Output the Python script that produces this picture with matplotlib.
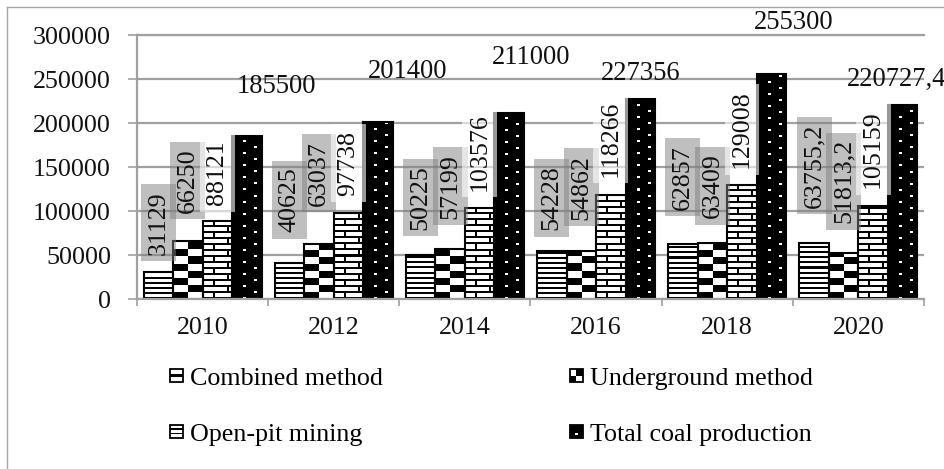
import numpy as np
import matplotlib
matplotlib.use('Agg')
import matplotlib.pyplot as plt
from matplotlib.patches import Rectangle
from matplotlib.legend_handler import HandlerBase
from matplotlib.lines import Line2D

# ---------------- data ----------------
years = ['2010', '2012', '2014', '2016', '2018', '2020']
combined = [31129, 40625, 50225, 54228, 62857, 63755.2]
underground = [66250, 63037, 57199, 54862, 63409, 51813.2]
open_pit = [88121, 97738, 103576, 118266, 129008, 105159]
total = [185500, 201400, 211000, 227356, 255300, 220727.4]
series_names = ['Combined method', 'Underground method', 'Open-pit mining', 'Total coal production']
yticks = [0, 50000, 100000, 150000, 200000, 250000, 300000]

# ---------------- style ----------------
total_dx = [30, 30, 22, 0, 22, -6]      # px offsets of total labels
total_dy = [49, 50, 56, 25, 52, 25]
rot_off = [[17, 31, 25, 21, 34, 35],     # px gap between bar top and rotated label
           [28, 38, 30, 31, 25, 30],
           [16, 17, 17, 18, 17, 18]]
box_fc = [(0.5, 0.5, 0.5, 0.5), (0.5, 0.5, 0.5, 0.5), (1, 1, 1, 0.6)]
GRID = '#a0a0a0'
FS = 18.7

plt.rcParams['font.family'] = ['Liberation Serif', 'DejaVu Serif']

W, H = 945, 469
fig = plt.figure(figsize=(W / 100, H / 100), dpi=100)
ax_l, ax_r, ax_t, ax_b = 137, 924, 35, 299
ax = fig.add_axes([ax_l / W, 1 - ax_b / H, (ax_r - ax_l) / W, (ax_b - ax_t) / H])

ymax = 300000
ncat = len(years)
xpx = (ax_r - ax_l) / ncat          # px per category unit
ypx = (ax_b - ax_t) / ymax          # px per value unit

w = 0.225
offs = [(-1.5 + k) * w for k in range(4)]
x = np.arange(ncat)
all_series = [combined, underground, open_pit, total]


def pattern(kind, nrows, ncols=30):
    r = np.arange(nrows)[:, None]
    c = np.arange(ncols)[None, :]
    ones = np.ones((nrows, ncols))
    if kind == 0:      # horizontal stripes
        a = np.where(r % 5 < 2, 0.0, 1.0) * ones
    elif kind == 1:    # checkerboard
        a = ((r // 7 + c // 15) % 2).astype(float) * ones
    elif kind == 2:    # brick
        hl = (r % 6 < 2)
        row = r // 6
        v = np.where(row % 2 == 0, (c >= 10) & (c < 12), (c >= 24) & (c < 26))
        a = np.where(hl | v, 0.0, 1.0) * ones
    else:              # black with white dashes
        d1 = (r % 12 < 2) & (c >= 11) & (c < 14)
        d2 = ((r % 12 >= 6) & (r % 12 < 8)) & (c >= 22) & (c < 25)
        a = np.where(d1 | d2, 1.0, 0.0) * ones
    return a


for s, vals in enumerate(all_series):
    bars = ax.bar(x + offs[s], vals, w, facecolor='white', edgecolor='none', zorder=2)
    for i, b in enumerate(bars):
        x0 = b.get_x()
        x1 = x0 + b.get_width()
        nrows = int(np.ceil(vals[i] * ypx)) + 2
        ncols = int(round(b.get_width() * xpx))
        im = ax.imshow(pattern(s, nrows, ncols), cmap='gray', vmin=0, vmax=1, origin='lower',
                       extent=[x0, x1, 0, nrows / ypx], aspect='auto',
                       interpolation='nearest', zorder=2.1)
        im.set_clip_path(b)
    ax.bar(x + offs[s], vals, w, facecolor='none', edgecolor='black', lw=1.5, zorder=2.2)


def fmt(v):
    v = float(v)
    return str(int(v)) if v.is_integer() else str(v).replace('.', ',')


for s in range(3):
    for i, v in enumerate(all_series[s]):
        ax.annotate(fmt(v), (x[i] + offs[s], v), xytext=(0, rot_off[s][i]),
                    textcoords='offset pixels', rotation=90, ha='center', va='bottom',
                    fontsize=FS, color='#111111', zorder=4 + s,
                    bbox=dict(boxstyle='square,pad=0.25', fc=box_fc[s], ec='none'))

for i, v in enumerate(total):
    ax.annotate(fmt(v), (x[i] + offs[3], v), xytext=(total_dx[i], total_dy[i]),
                textcoords='offset pixels', ha='center', va='center',
                fontsize=FS + 0.5, color='#111111', zorder=8)

ax.set_xlim(-0.5, ncat - 0.5)
ax.set_ylim(0, ymax)
ax.set_yticks(yticks)
ax.set_yticklabels([str(t) for t in yticks])
ax.set_xticks(x)
ax.set_xticklabels(years)
ax.set_xticks(np.arange(-0.5, ncat, 1), minor=True)
ax.tick_params(axis='x', which='major', length=0, pad=12.6, labelsize=FS, labelcolor='#111111')
ax.tick_params(axis='x', which='minor', length=5, width=1.2, color=GRID)
ax.tick_params(axis='y', length=6.5, width=1.2, color=GRID, pad=12.2, labelsize=FS, labelcolor='#111111')

ax.yaxis.grid(True, color=GRID, lw=1.6)
ax.set_axisbelow(True)
for sp in ['left', 'bottom', 'top']:
    ax.spines[sp].set_color(GRID)
    ax.spines[sp].set_linewidth(1.6)
ax.spines['right'].set_visible(False)


class IconHandler(HandlerBase):
    def __init__(self, kind):
        super().__init__()
        self.kind = kind

    def create_artists(self, legend, orig_handle, xdescent, ydescent, width, height, fontsize, trans):
        sz = min(width, height)
        x0 = -xdescent + (width - sz) / 2
        y0 = -ydescent + (height - sz) / 2
        k = self.kind
        arts = [Rectangle((x0, y0), sz, sz, fc='black' if k == 3 else 'white', ec='black',
                          lw=1.3, transform=trans)]
        if k == 0:
            arts.append(Rectangle((x0, y0 + 0.4 * sz), sz, 0.22 * sz, fc='black', ec='none', transform=trans))
        elif k == 1:
            arts.append(Rectangle((x0 + sz / 2, y0 + sz / 2), sz / 2, sz / 2, fc='black', ec='none', transform=trans))
            arts.append(Rectangle((x0, y0), sz / 2, sz / 2, fc='black', ec='none', transform=trans))
        elif k == 2:
            arts.append(Rectangle((x0, y0 + 0.3 * sz), sz, 0.1 * sz, fc='black', ec='none', transform=trans))
            arts.append(Rectangle((x0, y0 + 0.65 * sz), sz, 0.1 * sz, fc='black', ec='none', transform=trans))
        else:
            arts.append(Rectangle((x0 + 0.4 * sz, y0 + 0.2 * sz), 0.2 * sz, 0.15 * sz, fc='white', ec='none', transform=trans))
        return arts


handles = [Rectangle((0, 0), 1, 1, label=n) for n in series_names]
order = [0, 2, 1, 3]
hmap = {handles[k]: IconHandler(k) for k in range(4)}
fig.legend([handles[k] for k in order], [series_names[k] for k in order], handler_map=hmap,
           loc='upper left', bbox_to_anchor=(170 / W, 1 - 368 / H), ncol=2, frameon=False,
           fontsize=FS, handlelength=0.5, handleheight=0.5, handletextpad=0.27,
           columnspacing=7.2, labelspacing=1.3, borderpad=0, borderaxespad=0)

fig.add_artist(Line2D([7 / W, 7 / W], [0, 1 - 7 / H], color='#a6a6a6', lw=1, transform=fig.transFigure))
fig.add_artist(Line2D([7 / W, 1], [1 - 7 / H, 1 - 7 / H], color='#a6a6a6', lw=1, transform=fig.transFigure))

fig.savefig('out.png', dpi=100)
